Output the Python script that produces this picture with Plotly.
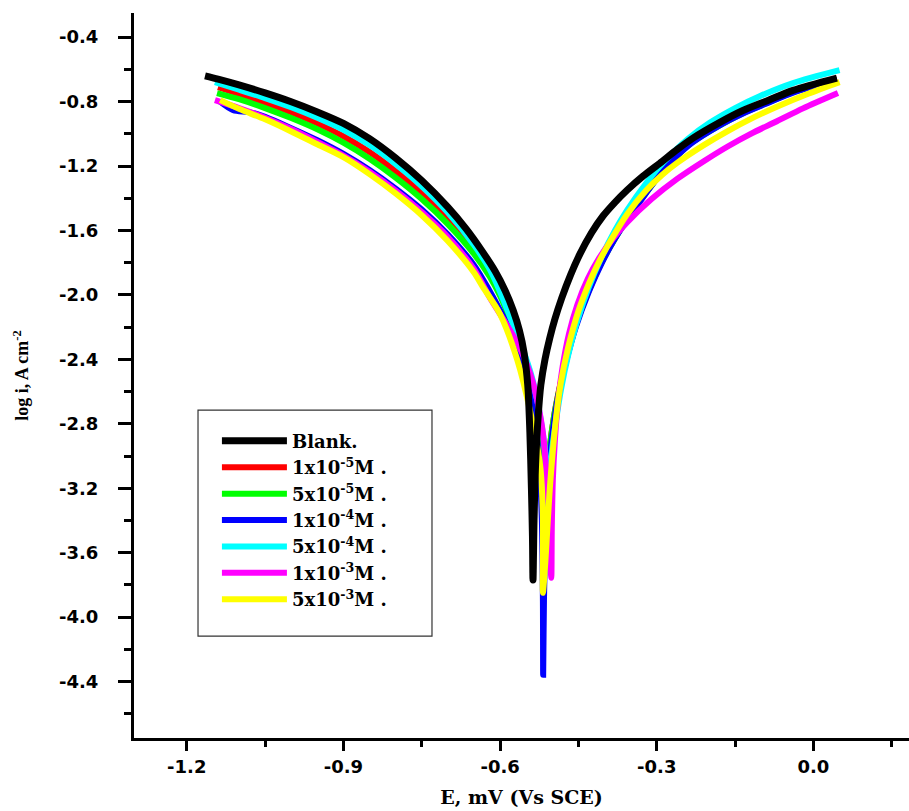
import plotly.graph_objects as go

# ---------------- data ----------------
series_names = ["Blank.", "1x10<sup>-5</sup>M .", "5x10<sup>-5</sup>M .", "1x10<sup>-4</sup>M .",
                "5x10<sup>-4</sup>M .", "1x10<sup>-3</sup>M .", "5x10<sup>-3</sup>M ."]
series_colors = ["#000000", "#ff0000", "#00ff00", "#0000ff", "#00ffff", "#ff00ff", "#ffff00"]

# Blank
E_blank = [-1.165, -1.140, -1.100, -1.050, -1.000, -0.950, -0.900, -0.850, -0.800, -0.750, -0.700, -0.665,
           -0.635, -0.610, -0.590, -0.575, -0.563, -0.554, -0.547, -0.543, -0.540, -0.538, -0.537,
           -0.535, -0.532, -0.527, -0.522, -0.514, -0.505, -0.495, -0.482, -0.465, -0.447, -0.425, -0.403,
           -0.380, -0.357, -0.326, -0.294, -0.260, -0.230, -0.180, -0.135, -0.085, -0.039, 0.045]
logi_blank = [-0.640, -0.660, -0.696, -0.746, -0.801, -0.864, -0.935, -1.030, -1.150, -1.290, -1.455, -1.590,
              -1.725, -1.850, -1.975, -2.095, -2.220, -2.360, -2.560, -2.850, -3.200, -3.500, -3.769,
              -3.400, -3.050, -2.750, -2.560, -2.400, -2.270, -2.150, -2.020, -1.875, -1.745, -1.615, -1.510,
              -1.425, -1.350, -1.262, -1.182, -1.095, -1.025, -0.930, -0.855, -0.790, -0.730, -0.654]

# 1x10^-5 M
E_1e5 = [-1.140, -1.100, -1.050, -1.000, -0.950, -0.900, -0.850, -0.800, -0.750, -0.700, -0.650, -0.620,
         -0.600, -0.580, -0.560, -0.545, -0.532, -0.523, -0.517, -0.514,
         -0.511, -0.505, -0.496, -0.485, -0.470, -0.450, -0.425, -0.400, -0.375, -0.350, -0.320, -0.290,
         -0.260, -0.230, -0.180, -0.135, -0.085, -0.039, 0.045]
logi_1e5 = [-0.710, -0.752, -0.806, -0.866, -0.935, -1.015, -1.113, -1.232, -1.370, -1.530, -1.725, -1.870,
            -1.995, -2.150, -2.330, -2.520, -2.750, -3.000, -3.300, -3.500,
            -3.200, -2.950, -2.740, -2.560, -2.360, -2.140, -1.930, -1.760, -1.620, -1.490, -1.360, -1.235,
            -1.130, -1.045, -0.945, -0.868, -0.800, -0.740, -0.662]

# 5x10^-5 M
E_5e5 = [-1.142, -1.100, -1.050, -1.000, -0.950, -0.900, -0.850, -0.800, -0.750, -0.700, -0.650, -0.620,
         -0.600, -0.580, -0.560, -0.545, -0.532, -0.523, -0.518, -0.515,
         -0.512, -0.506, -0.497, -0.486, -0.471, -0.451, -0.426, -0.401, -0.376, -0.351, -0.321, -0.291,
         -0.261, -0.231, -0.181, -0.135, -0.085, -0.039, 0.045]
logi_5e5 = [-0.747, -0.785, -0.840, -0.902, -0.972, -1.055, -1.155, -1.272, -1.405, -1.560, -1.745, -1.885,
            -2.005, -2.160, -2.340, -2.530, -2.760, -3.020, -3.300, -3.550,
            -3.250, -2.980, -2.760, -2.580, -2.370, -2.150, -1.940, -1.770, -1.630, -1.500, -1.368, -1.240,
            -1.136, -1.050, -0.950, -0.872, -0.803, -0.742, -0.664]

# 1x10^-4 M
E_1e4 = [-1.136, -1.111, -1.080, -1.050, -1.000, -0.950, -0.900, -0.850, -0.800, -0.750, -0.700, -0.650,
         -0.620, -0.600, -0.580, -0.560, -0.545, -0.533, -0.525, -0.520, -0.518, -0.5175,
         -0.516, -0.512, -0.506, -0.498, -0.488, -0.474, -0.455, -0.430, -0.405, -0.380, -0.352, -0.322,
         -0.292, -0.262, -0.232, -0.182, -0.135, -0.085, -0.039, 0.045]
logi_1e4 = [-0.800, -0.853, -0.865, -0.895, -0.965, -1.040, -1.125, -1.225, -1.340, -1.470, -1.625, -1.815,
            -1.975, -2.095, -2.230, -2.380, -2.560, -2.780, -3.050, -3.400, -3.900, -4.358,
            -3.900, -3.400, -3.050, -2.820, -2.620, -2.420, -2.200, -1.980, -1.800, -1.650, -1.510, -1.375,
            -1.245, -1.140, -1.055, -0.952, -0.874, -0.805, -0.744, -0.665]

# 5x10^-4 M
E_5e4 = [-1.146, -1.100, -1.050, -1.000, -0.950, -0.900, -0.850, -0.800, -0.750, -0.700, -0.650, -0.620,
         -0.600, -0.578, -0.556, -0.540, -0.529, -0.520, -0.514, -0.510, -0.508,
         -0.505, -0.500, -0.492, -0.483, -0.470, -0.452, -0.430, -0.405, -0.380, -0.357, -0.320, -0.288,
         -0.240, -0.198, -0.150, -0.102, -0.039, 0.050]
logi_5e4 = [-0.679, -0.726, -0.778, -0.835, -0.900, -0.975, -1.070, -1.188, -1.325, -1.488, -1.690, -1.840,
            -1.980, -2.160, -2.342, -2.500, -2.652, -2.820, -2.962, -3.200, -3.450,
            -3.150, -2.950, -2.760, -2.580, -2.380, -2.160, -1.950, -1.760, -1.600, -1.475, -1.305, -1.180,
            -1.030, -0.930, -0.840, -0.765, -0.685, -0.605]

# 1x10^-3 M
E_1e3 = [-1.146, -1.100, -1.050, -1.000, -0.950, -0.900, -0.850, -0.800, -0.750, -0.700, -0.650, -0.619,
         -0.590, -0.567, -0.550, -0.537, -0.526, -0.518, -0.508, -0.502,
         -0.501, -0.499, -0.495, -0.489, -0.480, -0.468, -0.452, -0.432, -0.410, -0.385, -0.357, -0.310,
         -0.261, -0.210, -0.165, -0.120, -0.070, -0.020, 0.047]
logi_1e3 = [-0.791, -0.840, -0.900, -0.970, -1.050, -1.135, -1.235, -1.352, -1.485, -1.640, -1.840, -2.020,
            -2.170, -2.298, -2.420, -2.546, -2.700, -2.857, -3.272, -3.756,
            -3.450, -3.150, -2.900, -2.660, -2.440, -2.240, -2.060, -1.900, -1.770, -1.655, -1.550, -1.405,
            -1.280, -1.170, -1.080, -1.000, -0.922, -0.842, -0.747]

# 5x10^-3 M
E_5e3 = [-1.136, -1.100, -1.050, -1.000, -0.950, -0.900, -0.850, -0.800, -0.750, -0.700, -0.650, -0.633,
         -0.600, -0.567, -0.543, -0.523, -0.518, -0.518,
         -0.514, -0.504, -0.494, -0.484, -0.470, -0.450, -0.430, -0.410, -0.385, -0.357, -0.320, -0.290,
         -0.261, -0.210, -0.165, -0.120, -0.070, -0.010, 0.050]
logi_5e3 = [-0.791, -0.845, -0.910, -0.985, -1.065, -1.145, -1.250, -1.370, -1.505, -1.665, -1.860, -1.950,
            -2.120, -2.404, -2.714, -3.067, -3.378, -3.849,
            -3.688, -3.167, -2.800, -2.550, -2.330, -2.100, -1.930, -1.790, -1.645, -1.500, -1.350, -1.255,
            -1.180, -1.070, -0.984, -0.907, -0.832, -0.751, -0.679]

x_tickvals = [-1.2, -0.9, -0.6, -0.3, 0.0]
x_ticktext = ["-1.2", "-0.9", "-0.6", "-0.3", "0.0"]
y_tickvals = [-0.4, -0.8, -1.2, -1.6, -2.0, -2.4, -2.8, -3.2, -3.6, -4.0, -4.4]
y_ticktext = ["-0.4", "-0.8", "-1.2", "-1.6", "-2.0", "-2.4", "-2.8", "-3.2", "-3.6", "-4.0", "-4.4"]

all_E = [E_blank, E_1e5, E_5e5, E_1e4, E_5e4, E_1e3, E_5e3]
all_logi = [logi_blank, logi_1e5, logi_5e5, logi_1e4, logi_5e4, logi_1e3, logi_5e3]

# ---------------- figure ----------------
fig = go.Figure()
# draw the blank curve last so it sits on top, but keep it first in the legend
draw_order = [1, 2, 3, 4, 5, 6, 0]
for i in draw_order:
    fig.add_trace(go.Scatter(
        x=all_E[i], y=all_logi[i], mode="lines", name=series_names[i], legendrank=i + 1,
        line=dict(color=series_colors[i], width=7 if i == 0 else 6, shape="spline", smoothing=0.8),
    ))

tick_font = dict(family="DejaVu Sans", size=18, color="black", weight="bold")

fig.update_layout(
    width=909, height=811,
    margin=dict(l=134, r=0, t=13, b=73),
    paper_bgcolor="white", plot_bgcolor="white",
    showlegend=True,
    legend=dict(
        x=0.107, y=0.435, xanchor="left", yanchor="top",
        bgcolor="rgba(0,0,0,0)", borderwidth=0, traceorder="normal",
        font=dict(family="DejaVu Serif", size=18, color="black", weight="bold"),
        itemwidth=65, tracegroupgap=0,
    ),
    shapes=[dict(type="rect", xref="paper", yref="paper",
                 x0=0.0826, x1=0.3845, y0=0.1404, y1=0.4522,
                 line=dict(color="#333333", width=1.2), fillcolor="rgba(0,0,0,0)", layer="below")],
    xaxis=dict(
        range=[-1.301, 0.183], showline=True, linecolor="black", linewidth=3,
        showgrid=False, zeroline=False,
        ticks="outside", ticklen=10, tickwidth=2.5, tickcolor="black",
        tickmode="array", tickvals=x_tickvals, ticktext=x_ticktext, tickfont=tick_font,
        minor=dict(tickmode="linear", tick0=0.15, dtick=0.3, ticks="outside", ticklen=6,
                   tickwidth=2.5, tickcolor="black", showgrid=False),
        title=dict(text="E, mV (Vs SCE)",
                   font=dict(family="DejaVu Serif", size=19, color="black", weight="bold"),
                   standoff=16),
    ),
    yaxis=dict(
        range=[-4.75, -0.25], showline=True, linecolor="black", linewidth=3,
        showgrid=False, zeroline=False,
        ticks="outside", ticklen=13, tickwidth=2.5, tickcolor="black",
        tickmode="array", tickvals=y_tickvals, ticktext=y_ticktext, tickfont=tick_font,
        ticklabelstandoff=16,
        minor=dict(tickmode="linear", tick0=-0.6, dtick=0.4, ticks="outside", ticklen=7,
                   tickwidth=2.5, tickcolor="black", showgrid=False),
        title=dict(text="log i, A cm<sup>-2</sup>",
                   font=dict(family="Liberation Serif", size=18, color="black", weight="bold"),
                   standoff=26),
    ),
)

fig.write_html("out.html")
